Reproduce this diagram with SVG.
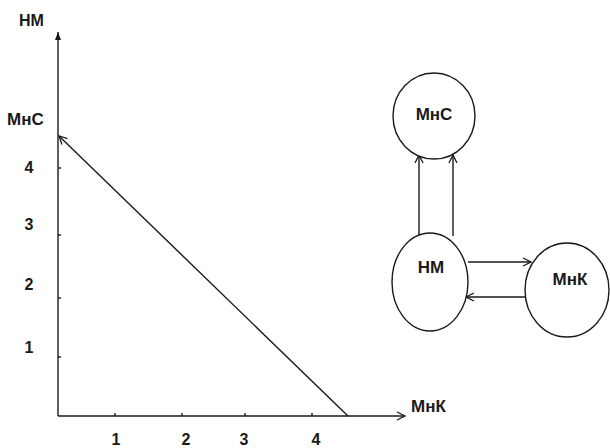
<svg xmlns="http://www.w3.org/2000/svg" width="610" height="448" viewBox="0 0 610 448">
<style>
.ln{stroke:#1a1a1a;stroke-width:1.4;fill:none}
.nd{stroke:#1a1a1a;stroke-width:1.4;fill:#fff}
.t{font-family:"Liberation Sans",Arial,sans-serif;font-weight:bold;font-size:17px;fill:#1a1a1a}
.d{font-size:16px}
.c{text-anchor:middle}
</style>
<defs>
<marker id="op" markerWidth="10" markerHeight="10" refX="9" refY="5" orient="auto" markerUnits="userSpaceOnUse">
<path d="M1,1 L9,5 L1,9" fill="none" stroke="#1a1a1a" stroke-width="1.3"/>
</marker>
<marker id="fl" markerWidth="10" markerHeight="10" refX="9" refY="5" orient="auto" markerUnits="userSpaceOnUse">
<path d="M1,2 L9,5 L1,8 Z" fill="#1a1a1a"/>
</marker>
</defs>
<rect width="610" height="448" fill="#fff"/>
<g id="chart">
<line class="ln" x1="58" y1="416" x2="58" y2="32" marker-end="url(#fl)"/>
<line class="ln" x1="58" y1="416" x2="405" y2="416" marker-end="url(#op)"/>
<line class="ln" x1="348" y1="416" x2="59" y2="136" marker-end="url(#op)"/>
<g class="ln">
<line x1="58" y1="168" x2="61" y2="168"/>
<line x1="58" y1="235" x2="61" y2="235"/>
<line x1="58" y1="298" x2="61" y2="298"/>
<line x1="58" y1="357" x2="61" y2="357"/>
<line x1="115" y1="416" x2="115" y2="413"/>
<line x1="182" y1="416" x2="182" y2="413"/>
<line x1="245" y1="416" x2="245" y2="413"/>
<line x1="312" y1="416" x2="312" y2="413"/>
</g>
<text class="t" x="19" y="26" style="font-size:16px">НМ</text>
<text class="t" x="7" y="125">МнС</text>
<text class="t" x="411" y="412">МнК</text>
<text class="t d c" x="29" y="173">4</text>
<text class="t d c" x="29" y="230">3</text>
<text class="t d c" x="29" y="290">2</text>
<text class="t d c" x="29" y="353">1</text>
<text class="t d c" x="116" y="445">1</text>
<text class="t d c" x="186" y="445">2</text>
<text class="t d c" x="244" y="445">3</text>
<text class="t d c" x="316" y="445">4</text>
</g>
<g id="connectors">
<line class="ln" x1="419" y1="236" x2="419" y2="155" marker-end="url(#op)"/>
<line class="ln" x1="453" y1="236" x2="453" y2="155" marker-end="url(#op)"/>
<line class="ln" x1="468" y1="262" x2="531" y2="262" marker-end="url(#op)"/>
<line class="ln" x1="526" y1="297" x2="466" y2="297" marker-end="url(#op)"/>
</g>
<g id="node-mns">
<ellipse class="nd" cx="434" cy="116" rx="41" ry="43"/>
<text class="t c" x="434" y="120">МнС</text>
</g>
<g id="node-nm">
<ellipse class="nd" cx="430" cy="282" rx="38" ry="49"/>
<text class="t c" x="431" y="273">НМ</text>
</g>
<g id="node-mnk">
<ellipse class="nd" cx="567" cy="290" rx="42" ry="47"/>
<text class="t c" x="570" y="285">МнК</text>
</g>
</svg>
